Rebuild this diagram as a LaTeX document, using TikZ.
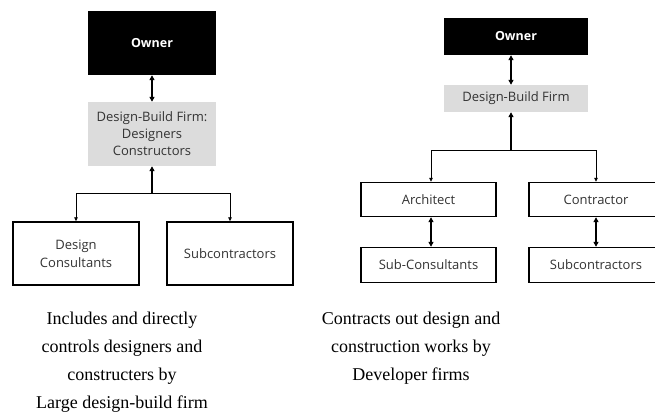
\documentclass[tikz,border=0pt]{standalone}
\usepackage{fontspec}
\setmainfont{Liberation Serif}
\newfontfamily\boxfont{Open Sans}
\usetikzlibrary{arrows.meta}
\definecolor{boxgray}{HTML}{DCDCDC}
\definecolor{txt}{HTML}{333333}
\begin{document}
\begin{tikzpicture}[x=1pt,y=-1pt,
  box/.style={draw=black,line width=1.4pt,fill=white,inner sep=0pt,font=\boxfont\fontsize{13}{18}\selectfont,text=txt,align=center},
  ownerbox/.style={fill=black,inner sep=0pt,font=\boxfont\bfseries\fontsize{12.5}{15}\selectfont,text=white},
  firmbox/.style={fill=boxgray,inner sep=0pt,font=\boxfont\fontsize{13}{17}\selectfont,text=txt,align=center},
  dbl/.style={line width=1.6pt,{Triangle[length=5pt,width=5pt]}-{Triangle[length=5pt,width=5pt]}},
  upar/.style={line width=1.6pt,-{Triangle[length=5pt,width=5pt]}},
  thin/.style={line width=0.8pt,-{Triangle[length=4pt,width=3.5pt]}},
  caption/.style={font=\fontsize{18}{28}\selectfont,align=center,inner sep=0pt}]
\useasboundingbox (0,0) rectangle (655,417);
% ---------- left ----------
\node[ownerbox,minimum width=128pt,minimum height=64pt] (lo) at (152,43) {Owner};
\node[firmbox,minimum width=128pt,minimum height=64pt] (lf) at (152,134) {Design-Build Firm:\\Designers\\Constructors};
\node[box,minimum width=126pt,minimum height=63pt] (ldc) at (76,253.5) {Design\\Consultants};
\node[box,minimum width=126pt,minimum height=63pt] (lsc) at (230,253.5) {Subcontractors};
\coordinate (lj) at (152,193);
\coordinate (ljl) at (ldc.north |- lj);
\coordinate (ljr) at (lsc.north |- lj);
\draw[dbl] (lo.south) -- (lf.north);
\draw[upar] (lj) -- (lf.south);
\draw[line width=0.8pt] (ljl) -- (ljr);
\draw[thin] (ljl) -- (ldc.north);
\draw[thin] (ljr) -- (lsc.north);
% ---------- right ----------
\node[ownerbox,minimum width=144pt,minimum height=37pt] (ro) at (516,36.5) {Owner};
\node[firmbox,minimum width=144pt,minimum height=27pt] (rf) at (516,98.5) {Design-Build Firm};
\node[box,minimum width=135pt,minimum height=34pt] (ra) at (428.5,199.5) {Architect};
\node[box,minimum width=134pt,minimum height=34pt] (rc) at (596,199.5) {Contractor};
\node[box,minimum width=135pt,minimum height=35pt] (rsc) at (428.5,265) {Sub-Consultants};
\node[box,minimum width=134pt,minimum height=35pt] (rsu) at (596,265) {Subcontractors};
\coordinate (rj) at (511,150);
\coordinate (rjl) at (431,150);
\coordinate (rjr) at (596,150);
\draw[dbl] (ro.south -| rj) -- (rf.north -| rj);
\draw[upar] (rj) -- (rf.south -| rj);
\draw[line width=0.8pt] (rjl) -- (rjr);
\draw[thin] (rjl) -- (ra.north -| rjl);
\draw[thin] (rjr) -- (rc.north -| rjr);
\draw[dbl] (ra.south -| rjl) -- (rsc.north -| rjl);
\draw[dbl] (rc.south -| rjr) -- (rsu.north -| rjr);
% ---------- captions ----------
\node[caption,anchor=north] (lcap) at (122,311.5) {Includes and directly\\controls designers and\\constructers by\\Large design-build firm};
\node[caption,anchor=north] (rcap) at (411,311.5) {Contracts out design and\\construction works by\\Developer firms};
\end{tikzpicture}
\end{document}
